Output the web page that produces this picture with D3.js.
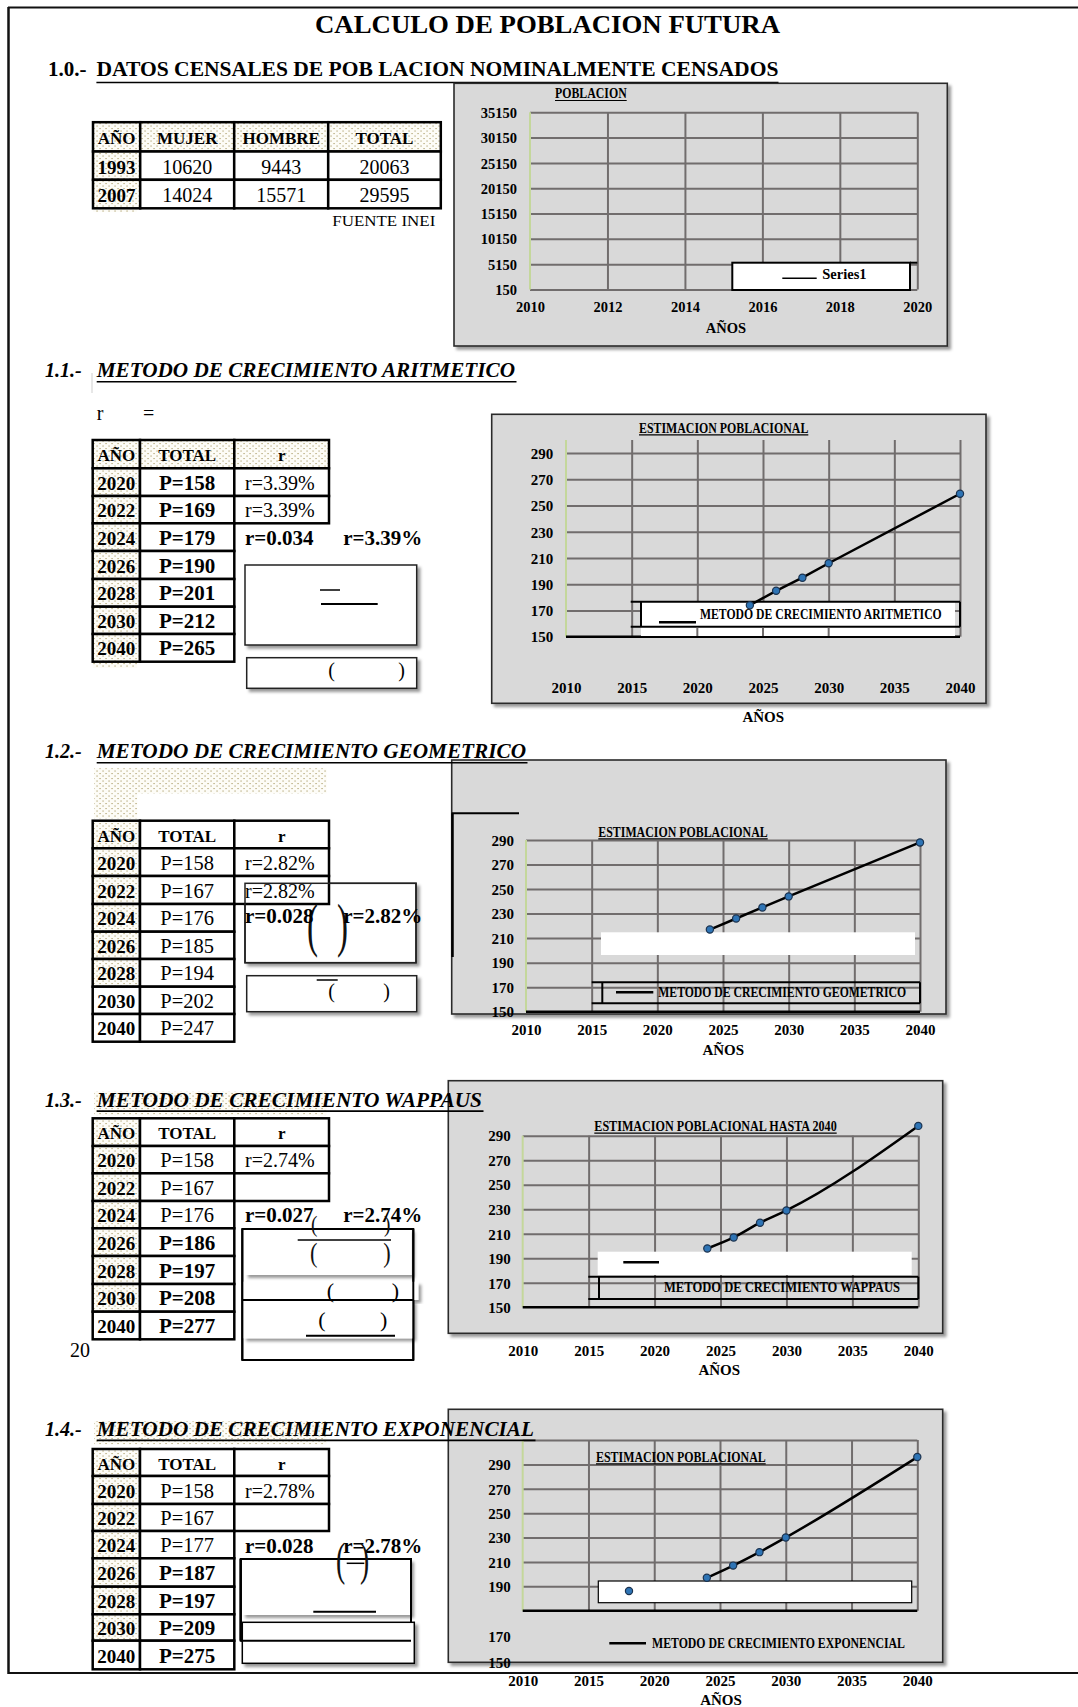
<!DOCTYPE html>
<html lang="es">
<head>
<meta charset="utf-8">
<title>Cálculo de población futura</title>
<script src="https://cdn.jsdelivr.net/npm/d3@7"></script>
<style>
  html, body { margin: 0; padding: 0; background: #fff; }
  svg { display: block; }
</style>
</head>
<body>
<svg id="sheet" width="1078" height="1707"></svg>
<script>
// ---- Census data (INEI) ----
const censusHeaders = ["AÑO", "MUJER", "HOMBRE", "TOTAL"];
const censusYears = ["1993", "2007"];
const censusMujer = [10620, 14024];
const censusHombre = [9443, 15571];
const censusTotal = [20063, 29595];

// ---- Projection tables ----
const projHeaders = ["AÑO", "TOTAL", "r"];
const projYears = [2020, 2022, 2024, 2026, 2028, 2030, 2040];
const aritTotals = [158, 169, 179, 190, 201, 212, 265];
const geoTotals = [158, 167, 176, 185, 194, 202, 247];
const wapTotals = [158, 167, 176, 186, 197, 208, 277];
const expTotals = [158, 167, 177, 187, 197, 209, 275];

// growth rate of each method (decimal and percent)
const methodRateDec = [0.034, 0.028, 0.027, 0.028];
const methodRatePct = [3.39, 2.82, 2.74, 2.78];

// ---- Chart series ----
const seriesYears = [2024, 2026, 2028, 2030, 2040];
const aritSeries = [174, 185, 195, 206, 259];
const geoSeries = [217, 226, 235, 244, 288];
const wapSeries = [198, 207, 219, 229, 298];
const expSeries = [197, 207, 218, 230, 296];

// ---- Axis ticks ----
const censusYTicks = [150, 5150, 10150, 15150, 20150, 25150, 30150, 35150];
const censusXTicks = [2010, 2012, 2014, 2016, 2018, 2020];
const estYTicks = [150, 170, 190, 210, 230, 250, 270, 290];
const estXTicks = [2010, 2015, 2020, 2025, 2030, 2035, 2040];

const SERIF = "'Liberation Serif','Times New Roman',Times,serif";
const PLOT_BG = "#d9d9d9";
const GRID = "#716d6d";

const svg = d3.select("#sheet");
svg.append("rect").attr("width", 1078).attr("height", 1707).attr("fill", "#fff");

// ---- defs: dotted cell fill and soft box shadow ----
const defs = svg.append("defs");
const pat = defs.append("pattern").attr("id", "dots")
  .attr("width", 6).attr("height", 5).attr("patternUnits", "userSpaceOnUse");
pat.append("rect").attr("width", 6).attr("height", 5).attr("fill", "#fdfcf7");
pat.append("rect").attr("x", 0.5).attr("y", 0.5).attr("width", 1.1).attr("height", 1.1).attr("fill", "#a6975f");
pat.append("rect").attr("x", 3.5).attr("y", 3).attr("width", 1.1).attr("height", 1.1).attr("fill", "#a6975f");

const shadow = defs.append("filter").attr("id", "shadow")
  .attr("x", "-5%").attr("y", "-5%").attr("width", "115%").attr("height", "125%");
shadow.append("feDropShadow").attr("dx", 3).attr("dy", 3).attr("stdDeviation", 1.8)
  .attr("flood-color", "#000").attr("flood-opacity", 0.4);

// ---- helpers ----
function T(parent, x, y, s, o = {}) {
  const t = parent.append("text").attr("x", x).attr("y", y).text(s)
    .attr("font-family", SERIF)
    .attr("font-size", o.size || 18)
    .attr("font-weight", o.bold ? "bold" : "normal")
    .attr("font-style", o.italic ? "italic" : "normal")
    .attr("text-anchor", o.anchor || "start")
    .attr("fill", o.fill || "#000");
  if (o.len) t.attr("textLength", o.len).attr("lengthAdjust", "spacingAndGlyphs");
  return t;
}
// tall, thin bracket glyph (horizontally squeezed)
function P(parent, x, y, s, size, sx = 0.55) {
  return parent.append("text").attr("transform", `translate(${x},${y}) scale(${sx},1)`)
    .text(s).attr("font-family", SERIF).attr("font-size", size).attr("fill", "#111");
}
function L(parent, x1, y1, x2, y2, w = 1.5, color = "#000") {
  return parent.append("line").attr("x1", x1).attr("y1", y1).attr("x2", x2).attr("y2", y2)
    .attr("stroke", color).attr("stroke-width", w);
}
function R(parent, x0, y0, x1, y1, o = {}) {
  const r = parent.append("rect").attr("x", x0).attr("y", y0)
    .attr("width", x1 - x0).attr("height", y1 - y0)
    .attr("fill", o.fill || "#fff")
    .attr("stroke", o.stroke || "none")
    .attr("stroke-width", o.sw || 0);
  if (o.shadow) r.attr("filter", "url(#shadow)");
  return r;
}
function cell(g, x0, y0, x1, y1, dotted) {
  R(g, x0, y0, x1, y1, { fill: dotted ? "url(#dots)" : "#fff", stroke: "#000", sw: 2.5 });
}

// ---- page frame ----
const page = svg.append("g");
L(page, 8, 7.5, 1078, 7.5, 2, "#111");
L(page, 8.5, 7, 8.5, 1674, 2.5, "#111");
L(page, 8, 1673, 1078, 1673, 2, "#111");

// ---- main title ----
T(page, 315, 32.7, "CALCULO DE POBLACION FUTURA", { size: 26, bold: true, len: 465 });

// ---- 1.0 census section ----
T(page, 48, 76.4, "1.0.-", { size: 21, bold: true });
T(page, 96.4, 76.4, "DATOS  CENSALES DE POB LACION  NOMINALMENTE CENSADOS", { size: 21, bold: true, len: 682 });
L(page, 96.4, 82.5, 778.5, 82.5, 1.5);

(function censusTable() {
  const g = svg.append("g");
  const cx = [93, 140.2, 234.2, 328.2, 440.8];
  const ry = [122.2, 151.5, 179.8, 208.3];
  R(g, 93, 208.3, 137, 212, { fill: "url(#dots)" });
  censusHeaders.forEach((h, i) => cell(g, cx[i], ry[0], cx[i + 1], ry[1], true));
  censusYears.forEach((yr, r) => {
    for (let c = 0; c < 4; c++) cell(g, cx[c], ry[r + 1], cx[c + 1], ry[r + 2], c === 0);
  });
  censusHeaders.forEach((h, i) =>
    T(g, (cx[i] + cx[i + 1]) / 2, ry[0] + 22, h, { size: 17, bold: true, anchor: "middle" }));
  censusYears.forEach((yr, r) => {
    const base = ry[r + 1] + 22.5;
    T(g, (cx[0] + cx[1]) / 2, base, yr, { size: 19, bold: true, anchor: "middle" });
    [censusMujer[r], censusHombre[r], censusTotal[r]].forEach((v, c) =>
      T(g, (cx[c + 1] + cx[c + 2]) / 2, base, String(v), { size: 20, anchor: "middle" }));
  });
  T(g, 332.3, 225.5, "FUENTE  INEI", { size: 15.5, len: 103 });
})();

// ---- generic chart frame ----
function drawChart(c) {
  const g = svg.append("g");
  const [bx0, by0, bx1, by1] = c.box;
  R(g, bx0, by0, bx1, by1, { fill: PLOT_BG, stroke: "#2b2b2b", sw: 1.6, shadow: true });
  const x = d3.scaleLinear().domain(c.xDomain).range(c.xRange);
  const y = d3.scaleLinear().domain(c.yDomain).range(c.yRange);
  const x0 = c.xRange[0], x1 = c.xRange[1];
  const base = y(c.yDomain[0]);
  const top = c.gridTop;

  // horizontal gridlines
  g.append("g").attr("transform", `translate(${x0},0)`)
    .call(d3.axisLeft(y).tickValues(c.hGrid).tickSize(-(x1 - x0)).tickFormat(""))
    .call(a => a.select(".domain").remove())
    .call(a => a.selectAll("line").attr("stroke", GRID).attr("stroke-width", 2));
  // vertical gridlines
  g.append("g").attr("transform", `translate(0,${base})`)
    .call(d3.axisBottom(x).tickValues(c.vGrid).tickSize(-(base - top)).tickFormat(""))
    .call(a => a.select(".domain").remove())
    .call(a => a.selectAll("line").attr("stroke", GRID).attr("stroke-width", 2));
  // value axis line
  L(g, x0, top, x0, base, 2, "#c4d79b");
  if (c.baseColor) L(g, x0, base, x1, base, 2.5, c.baseColor);

  const styleText = sel => sel.attr("font-family", SERIF).attr("font-size", c.fs)
    .attr("font-weight", "bold").attr("fill", "#000");
  // y tick labels
  g.append("g").attr("transform", `translate(${c.yLabelX},0)`)
    .call(d3.axisLeft(y).tickValues(c.yLabels).tickSize(0).tickPadding(0).tickFormat(d => String(d)))
    .call(a => a.select(".domain").remove())
    .call(a => a.selectAll("text").attr("x", 0).attr("dy", "0.35em").call(styleText));
  // x tick labels
  g.append("g").attr("transform", `translate(0,${c.xLabelY})`)
    .call(d3.axisBottom(x).tickValues(c.xTicks).tickSize(0).tickPadding(0).tickFormat(d => String(d)))
    .call(a => a.select(".domain").remove())
    .call(a => a.selectAll("text").attr("y", 0).attr("dy", 0).call(styleText));
  // axis title
  T(g, c.anos[0], c.anos[1], "AÑOS", { size: c.fs, bold: true, anchor: "middle" });
  // chart title
  if (c.title) {
    const [tx0, tx1, ty] = c.titlePos;
    T(g, tx0, ty, c.title, { size: c.fs, bold: true, len: tx1 - tx0 });
    L(g, tx0, ty + 2.2, tx1, ty + 2.2, 1.2);
  }
  if (c.extras) c.extras(g, x, y);
  if (c.values) {
    const pts = c.years.map((yr, i) => ({ year: yr, value: c.values[i] }));
    g.append("path")
      .attr("d", d3.line().x(d => x(d.year)).y(d => y(d.value)).curve(c.curve || d3.curveLinear)(pts))
      .attr("fill", "none").attr("stroke", "#000").attr("stroke-width", 2.5);
    g.selectAll("circle.pt").data(pts).join("circle").attr("class", "pt")
      .attr("cx", d => x(d.year)).attr("cy", d => y(d.value)).attr("r", 3.6)
      .attr("fill", "#2e74b5").attr("stroke", "#1b3350").attr("stroke-width", 1.2);
  }
  return { g, x, y };
}

// ---- 1.0 chart: POBLACION ----
drawChart({
  box: [454, 83.3, 947.3, 346],
  xDomain: [2010, 2020], xRange: [530, 917.3],
  yDomain: [150, 35150], yRange: [289.5, 112.3],
  gridTop: 112.3,
  hGrid: censusYTicks, vGrid: censusXTicks.slice(1),
  yLabels: censusYTicks, xTicks: censusXTicks,
  yLabelX: 517, xLabelY: 312.3, fs: 14.5,
  anos: [726, 333.3],
  title: "POBLACION", titlePos: [555, 626.7, 98.3],
  extras: (g) => {
    R(g, 732.3, 262.7, 910, 290, { fill: "#fff", stroke: "#000", sw: 2 });
    L(g, 910, 262.7, 917.3, 262.7, 2);
    L(g, 782.3, 278.3, 816.7, 278.3, 1.5);
    T(g, 822.3, 278.5, "Series1", { size: 14.5, bold: true });
  }
});

// ---- section titles (drawn last, above the chart frames) ----
function sectionTitle(num, label, yBase, xEnd, dotted) {
  const g = svg.append("g");
  if (dotted) R(g, 94.3, yBase - 15, 326.7, yBase + 8.5, { fill: "url(#dots)" });
  T(g, 45, yBase, num, { size: 20, bold: true, italic: true });
  T(g, 96.7, yBase, label, { size: 20, bold: true, italic: true, len: xEnd - 96.7 });
  L(g, 96.7, yBase + 4.4, xEnd + 1.5, yBase + 4.4, 1.6);
}

// ---- projection table ----
function projTable(rowsY, totals, o) {
  const g = svg.append("g");
  const cx = [92.7, 140, 234.3, 329];
  projHeaders.forEach((h, i) => cell(g, cx[i], rowsY[0], cx[i + 1], rowsY[1], o.headerDots[i]));
  projYears.forEach((yr, i) => {
    cell(g, cx[0], rowsY[i + 1], cx[1], rowsY[i + 2], o.yearDots[i]);
    cell(g, cx[1], rowsY[i + 1], cx[2], rowsY[i + 2], false);
    if (i < 2) cell(g, cx[2], rowsY[i + 1], cx[3], rowsY[i + 2], false);
  });
  const mid = k => (rowsY[k] + rowsY[k + 1]) / 2;
  projHeaders.forEach((h, i) =>
    T(g, (cx[i] + cx[i + 1]) / 2, mid(0) + 7, h, { size: 17, bold: true, anchor: "middle" }));
  projYears.forEach((yr, i) => {
    const b = mid(i + 1) + 7.5;
    T(g, (cx[0] + cx[1]) / 2, b, String(yr), { size: 19, bold: true, anchor: "middle" });
    T(g, (cx[1] + cx[2]) / 2, b, "P=" + totals[i], { size: o.totalBold[i] ? 21 : 20.5, bold: o.totalBold[i], anchor: "middle" });
    if (i < 2 && o.rTexts[i]) T(g, 245, b, o.rTexts[i], { size: 20 });
  });
  return g;
}
function rateLine(k, yBase) {
  T(svg, 245, yBase, "r=" + methodRateDec[k].toFixed(3), { size: 21, bold: true });
  T(svg, 343.3, yBase, "r=" + methodRatePct[k].toFixed(2) + "%", { size: 21, bold: true });
}
const pctText = k => "r=" + methodRatePct[k].toFixed(2) + "%";

// ---- 1.1 Aritmetico ----
L(page, 92, 373, 92, 393, 1, "#cfcfcf");
T(page, 96.7, 420, "r", { size: 20 });
T(page, 143, 420, "=", { size: 20 });
R(svg, 92.7, 661.7, 137, 668, { fill: "url(#dots)" });
projTable([440, 468.3, 496, 523.3, 551, 579, 606.7, 634, 661.7], aritTotals, {
  headerDots: [true, true, true],
  yearDots: [true, true, true, true, true, true, true],
  totalBold: [true, true, true, true, true, true, true],
  rTexts: [pctText(0), pctText(0)]
});
rateLine(0, 545);
(function () {
  const g = svg.append("g");
  R(g, 245, 565, 416.7, 645, { fill: "#fff", stroke: "#222", sw: 1.5, shadow: true });
  L(g, 320, 590, 340, 590, 1.5);
  L(g, 321, 604, 377.7, 604, 2);
  R(g, 246.7, 657.7, 416.7, 688.3, { fill: "#fff", stroke: "#222", sw: 1.5, shadow: true });
  T(g, 328.3, 676.7, "(", { size: 20 });
  T(g, 398.3, 676.7, ")", { size: 20 });
})();

drawChart({
  box: [491.7, 414.3, 986, 703.3],
  xDomain: [2010, 2040], xRange: [566, 960],
  yDomain: [150, 300], yRange: [636.7, 440],
  gridTop: 440, baseColor: "#000",
  hGrid: estYTicks.slice(1), vGrid: estXTicks.slice(1),
  yLabels: estYTicks, xTicks: estXTicks,
  yLabelX: 553.3, xLabelY: 693.3, fs: 15,
  anos: [763.3, 721.7],
  title: "ESTIMACION POBLACIONAL", titlePos: [639, 808.3, 432.7],
  extras: (g, x) => {
    R(g, 641, 601.7, 955, 636, { fill: "#fff" });
    L(g, 630.7, 601.7, 960, 601.7, 2);
    L(g, 630.7, 626.7, 960, 626.7, 2);
    L(g, 641, 601.7, 641, 626.7, 2);
    L(g, 960, 601.7, 960, 626.7, 2);
    [2020, 2025, 2030].forEach(v => L(g, x(v), 627.7, x(v), 636, 2, GRID));
    L(g, 659, 622.3, 696, 622.3, 2.5);
    T(g, 700, 619, "METODO DE CRECIMIENTO ARITMETICO", { size: 15, bold: true, len: 241.7 });
  },
  years: seriesYears, values: aritSeries, curve: d3.curveLinear
});

// ---- 1.2 Geometrico ----
R(svg, 94.3, 768.3, 326.7, 793.3, { fill: "url(#dots)" });
R(svg, 94.3, 793.3, 137.3, 818.3, { fill: "url(#dots)" });
R(svg, 245, 883.3, 416, 962.7, { fill: "#fff", stroke: "#222", sw: 1.5, shadow: true });
projTable([820.7, 848.3, 876, 904, 931.7, 959, 986.7, 1014, 1041.7], geoTotals, {
  headerDots: [true, false, false],
  yearDots: [true, true, true, true, true, false, false],
  totalBold: [false, false, false, false, false, false, false],
  rTexts: [pctText(1), pctText(1)]
});
(function () {
  const g = svg.append("g");
  R(g, 245, 883.3, 416, 962.7, { fill: "none", stroke: "#222", sw: 1.5 });
  R(g, 236, 905.5, 243.5, 930, { fill: "#fff" });
  P(g, 307, 945, "(", 60);
  P(g, 337, 945, ")", 60);
  R(g, 246.7, 975.7, 416.7, 1011.7, { fill: "#fff", stroke: "#222", sw: 1.5, shadow: true });
  L(g, 316.7, 980, 337.7, 980, 1.5);
  T(g, 328.3, 998.3, "(", { size: 20 });
  T(g, 383.3, 998.3, ")", { size: 20 });
})();
rateLine(1, 923.3);

drawChart({
  box: [451.7, 760, 946, 1014],
  xDomain: [2010, 2040], xRange: [526, 920],
  yDomain: [150, 290], yRange: [1011.7, 840],
  gridTop: 840, baseColor: "#000",
  hGrid: estYTicks.slice(1), vGrid: estXTicks.slice(1),
  yLabels: estYTicks, xTicks: estXTicks,
  yLabelX: 514, xLabelY: 1035, fs: 15,
  anos: [723.3, 1055],
  title: "ESTIMACION POBLACIONAL", titlePos: [598.3, 767.7, 836.7],
  extras: (g) => {
    L(g, 451.7, 813.3, 519, 813.3, 2);
    L(g, 452.5, 813.3, 452.5, 957, 2.5);
    R(g, 601, 932.3, 915, 955, { fill: "#fff" });
    L(g, 591.7, 982.3, 920, 982.3, 2);
    L(g, 591.7, 1003.3, 920, 1003.3, 2);
    L(g, 602.3, 982.3, 602.3, 1003.3, 2);
    L(g, 920, 982.3, 920, 1003.3, 2);
    L(g, 616, 992.3, 653.3, 992.3, 2.5);
    T(g, 658.3, 996.7, "METODO DE CRECIMIENTO GEOMETRICO", { size: 15, bold: true, len: 247.7 });
  },
  years: seriesYears, values: geoSeries, curve: d3.curveLinear
});

// ---- 1.3 Wappaus ----
projTable([1118.3, 1146, 1173.3, 1201, 1228.3, 1256, 1284, 1311.7, 1339.3], wapTotals, {
  headerDots: [true, false, false],
  yearDots: [true, true, true, true, true, true, false],
  totalBold: [false, false, false, true, true, true, true],
  rTexts: [pctText(2), ""]
});
(function () {
  const g = svg.append("g");
  R(g, 242.3, 1229, 413.3, 1360, { fill: "#fff", stroke: "#000", sw: 2 });
  R(g, 245, 1229, 411.7, 1275, { fill: "#fff", shadow: true });
  R(g, 243.3, 1281.7, 418.3, 1300, { fill: "#fff", shadow: true });
  R(g, 243.3, 1300, 413.3, 1338.3, { fill: "#fff", shadow: true });
  L(g, 242.3, 1229, 413.3, 1229, 2);
  L(g, 242.3, 1229, 242.3, 1360, 2);
  L(g, 413.3, 1229, 413.3, 1360, 2);
  L(g, 297.7, 1240, 391, 1240, 1.5);
  P(g, 310, 1261.7, "(", 28, 0.8);
  P(g, 383.3, 1261.7, ")", 28, 0.8);
  T(g, 326.7, 1298.3, "(", { size: 22 });
  T(g, 391.7, 1298.3, ")", { size: 22 });
  L(g, 242.3, 1300, 413.3, 1300, 2);
  T(g, 318.3, 1326.7, "(", { size: 22 });
  T(g, 380, 1326.7, ")", { size: 22 });
  L(g, 306, 1335.7, 395, 1335.7, 2);
})();
rateLine(2, 1221.7);
P(svg, 311, 1232, "(", 24, 0.8);
P(svg, 384, 1232, ")", 24, 0.8);
T(svg, 70, 1357.3, "20", { size: 20 });

drawChart({
  box: [448.3, 1080.7, 942.7, 1333.3],
  xDomain: [2010, 2040], xRange: [522.7, 918.3],
  yDomain: [150, 290], yRange: [1307.3, 1135.7],
  gridTop: 1135.7, baseColor: "#000",
  hGrid: estYTicks.slice(1), vGrid: estXTicks.slice(1),
  yLabels: estYTicks, xTicks: estXTicks,
  yLabelX: 510.7, xLabelY: 1356, fs: 15,
  anos: [719.3, 1375],
  title: "ESTIMACION POBLACIONAL HASTA 2040", titlePos: [594.3, 836.7, 1131],
  extras: (g) => {
    R(g, 597.7, 1251.7, 911.7, 1275, { fill: "#fff" });
    L(g, 623.3, 1262.3, 659, 1262.3, 2.5);
    L(g, 588.3, 1276.7, 918.3, 1276.7, 2);
    L(g, 588.3, 1299, 918.3, 1299, 2);
    L(g, 599, 1276.7, 599, 1299, 2);
    L(g, 918.3, 1276.7, 918.3, 1299, 2);
    T(g, 664, 1291.7, "METODO DE CRECIMIENTO WAPPAUS", { size: 15, bold: true, len: 236 });
  },
  years: seriesYears, values: wapSeries, curve: d3.curveMonotoneX
});

// ---- 1.4 Exponencial ----
projTable([1449, 1476, 1504, 1531, 1558.3, 1586.7, 1614.3, 1640.7, 1669.3], expTotals, {
  headerDots: [true, false, false],
  yearDots: [true, true, true, true, true, true, false],
  totalBold: [false, false, false, true, true, true, true],
  rTexts: [pctText(3), ""]
});
(function () {
  const g = svg.append("g");
  R(g, 240.7, 1559, 411, 1640.7, { fill: "#fff", stroke: "#000", sw: 2 });
  R(g, 242.3, 1559, 411, 1615, { fill: "#fff", shadow: true });
  L(g, 240.7, 1559, 240.7, 1640.7, 2.5);
  L(g, 240.7, 1559, 411, 1559, 2);
  L(g, 411, 1559, 411, 1640.7, 2);
  L(g, 313.3, 1611.7, 376, 1611.7, 2);
  R(g, 242.3, 1622.3, 414.3, 1663.3, { fill: "#fff", stroke: "#000", sw: 1.5, shadow: true });
  L(g, 240.7, 1640.7, 411, 1640.7, 2);
})();
rateLine(3, 1553.3);
P(svg, 336, 1575, "(", 46, 0.6);
P(svg, 360, 1575, ")", 46, 0.6);
L(svg, 346.7, 1563.3, 364.3, 1563.3, 1.5);

drawChart({
  box: [448.3, 1409.3, 942.7, 1662.3],
  xDomain: [2010, 2040], xRange: [522.7, 917.3],
  yDomain: [170, 310], yRange: [1610.7, 1440],
  gridTop: 1440, baseColor: "#000",
  hGrid: [190, 210, 230, 250, 270, 290, 310], vGrid: estXTicks.slice(1),
  yLabels: estYTicks.filter(v => v >= 190), xTicks: estXTicks,
  yLabelX: 510.7, xLabelY: 1685.7, fs: 15,
  anos: [721, 1705],
  title: "ESTIMACION POBLACIONAL", titlePos: [596, 765.7, 1461.7],
  extras: (g) => {
    // lowest tick labels sit below the plot frame
    const yLow = d3.scaleLinear().domain([150, 170]).range([1662.3, 1636.7]);
    g.append("g").attr("transform", "translate(510.7,0)")
      .call(d3.axisLeft(yLow).tickValues(estYTicks.filter(v => v < 190)).tickSize(0).tickPadding(0).tickFormat(d => String(d)))
      .call(a => a.select(".domain").remove())
      .call(a => a.selectAll("text").attr("x", 0).attr("dy", "0.35em")
        .attr("font-family", SERIF).attr("font-size", 15).attr("font-weight", "bold").attr("fill", "#000"));
    R(g, 598.3, 1581, 911.7, 1602.7, { fill: "#fff", stroke: "#000", sw: 1.2 });
    g.append("circle").attr("cx", 629).attr("cy", 1591).attr("r", 3.6)
      .attr("fill", "#2e74b5").attr("stroke", "#1b3350").attr("stroke-width", 1.2);
    L(g, 609.3, 1643.3, 646, 1643.3, 2.5);
    T(g, 652, 1648.3, "METODO DE CRECIMIENTO EXPONENCIAL", { size: 15, bold: true, len: 253 });
  },
  years: seriesYears, values: expSeries, curve: d3.curveMonotoneX
});

// section headings over everything else
sectionTitle("1.1.-", "METODO  DE  CRECIMIENTO ARITMETICO", 377.3, 515, false);
sectionTitle("1.2.-", "METODO  DE  CRECIMIENTO GEOMETRICO", 758.3, 526, false);
sectionTitle("1.3.-", "METODO  DE  CRECIMIENTO WAPPAUS", 1106.7, 482, true);
sectionTitle("1.4.-", "METODO  DE  CRECIMIENTO EXPONENCIAL", 1436, 534, true);
</script>
</body>
</html>
